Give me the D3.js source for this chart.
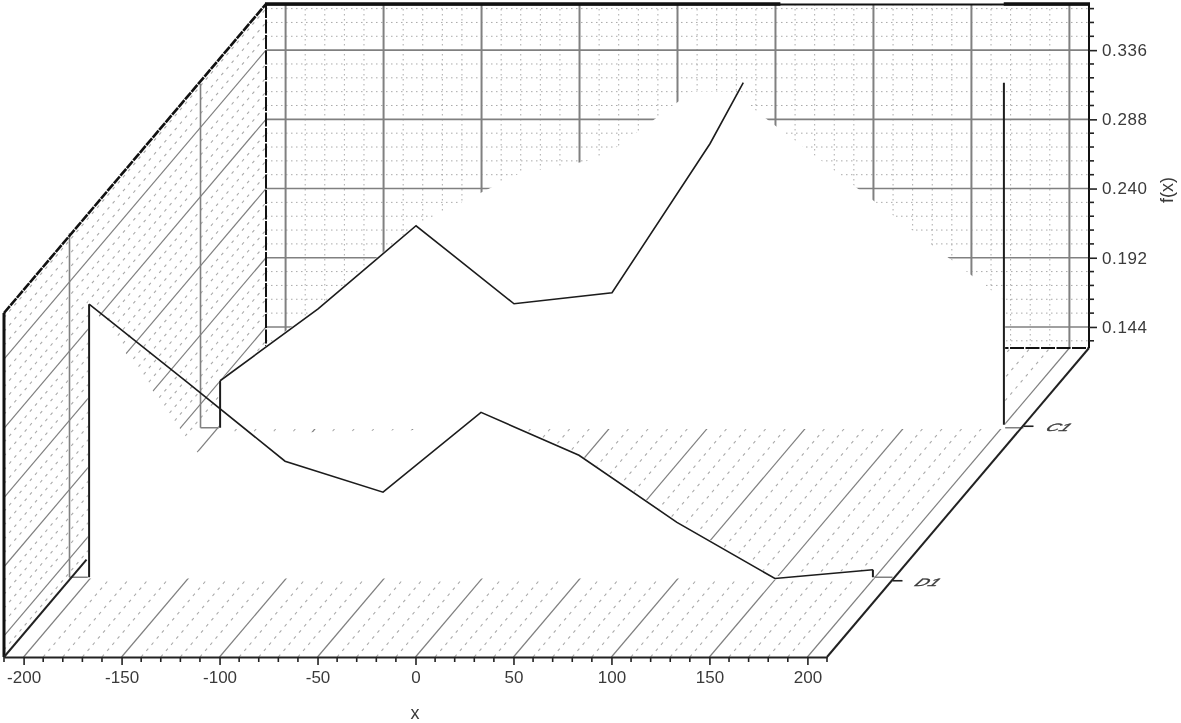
<!DOCTYPE html>
<html>
<head>
<meta charset="utf-8">
<script src="https://cdn.jsdelivr.net/npm/d3@7/dist/d3.min.js"></script>
<style>
    html, body { margin: 0; padding: 0; background: #fff; }
    svg { display: block; filter: blur(0.35px); }
    text { font-family: "Liberation Sans", Arial, sans-serif; fill: #3a3a3a; }
</style>
</head>
<body>
<div id="chart"></div>
<script>
var categories = ["D1", "C1"];

var xMajorTicks = [-200, -150, -100, -50, 0, 50, 100, 150, 200];
var yMajorTicks = [0.144, 0.192, 0.24, 0.288, 0.336];

//Series lines
var d1X = [-200, -150, -100, -50, 0, 50, 100, 150, 200];
var d1Values = [0.3188, 0.2647, 0.2099, 0.1884, 0.2438, 0.214, 0.1675, 0.1285, 0.1346];
var c1X = [-200, -150, -100, -50, 0, 50, 67];
var c1Values = [0.162, 0.2119, 0.2695, 0.2154, 0.223, 0.3264, 0.3687];
var c1EndValue = 0.3687;

//White areas under the series, their outline does not follow the lines
var d1FillX = [-200, -145, -131, -35, 0, 50, 100, 150, 200];
var d1FillValues = [0.3188, 0.2147, 0.2279, 0.2307, 0.2438, 0.214, 0.1675, 0.1285, 0.1346];
var c1FillX = [-200, -150, -100, -91, -47, -11, 4, 41, 59, 69, 200];
var c1FillValues = [0.162, 0.2119, 0.2695, 0.2751, 0.3049, 0.3139, 0.3243, 0.3618, 0.3618, 0.3527, 0.2168];

var width = 1181, height = 723;

var x = d3.scaleLinear().domain([-210, 210]).range([4, 827]);
var y = d3.scaleLinear().domain([0.1294, 0.368]).range([348, 4]);

//Oblique depth of the box, back wall is shifted by this much
var depthW = 262, depthH = 309;
var depthX = d3.scalePoint().domain(categories).range([0, depthW]).padding(0.5);
var depthY = d3.scalePoint().domain(categories).range([5, 304]).padding(0.5);

var xMinor = d3.range(-210, 211, 10).filter(function (d) { return xMajorTicks.indexOf(d) < 0; });
var yMinor = d3.range(-3, 24).map(function (i) { return 0.144 + i * 0.0096; })
    .filter(function (d) { return d > 0.1294 && d < 0.368; })
    .filter(function (d) { return !yMajorTicks.some(function (t) { return Math.abs(t - d) < 1e-6; }); });
var xDotted = xMinor.filter(function (d) { return d > -210 && d < 210; });

var svg = d3.select("#chart").append("svg")
    .attr("width", width)
    .attr("height", height);

var frontY = function (v) { return y(v) + depthH; };
var xBack = function (d) { return x(d) + depthW; };

function seg(g, data, x1, y1, x2, y2, color, w, dash) {
    g.append("g").selectAll("line").data(data).enter().append("line")
        .attr("x1", x1).attr("y1", y1).attr("x2", x2).attr("y2", y2)
        .attr("stroke", color)
        .attr("stroke-width", w)
        .attr("stroke-dasharray", dash || null);
}

var grid = svg.append("g").attr("class", "grid");

//Back wall
seg(grid, xDotted, xBack, 4, xBack, 348, "#aaa", 1, "1.5,3.5");
seg(grid, yMinor, x(-210) + depthW, y, x(210) + depthW, y, "#aaa", 1, "1.5,3.5");
seg(grid, xMajorTicks, xBack, 4, xBack, 348, "#808080", 2);
seg(grid, yMajorTicks, x(-210) + depthW, y, x(210) + depthW, y, "#808080", 1.6);

//Left wall
seg(grid, yMinor, x(-210), frontY, x(-210) + depthW, y, "#aaa", 1.1, "3,5");
seg(grid, yMajorTicks, x(-210), frontY, x(-210) + depthW, y, "#808080", 1.2);
seg(grid, categories, function (c) { return x(-210) + depthX(c); }, function (c) { return 657 - depthY(c); },
    function (c) { return x(-210) + depthX(c); }, function (c) { return 313 - depthY(c); }, "#808080", 1.6);

//Floor
seg(grid, xDotted, x, 657, xBack, 348, "#aaa", 1.1, "3,5");
seg(grid, xMajorTicks, x, 657, xBack, 348, "#808080", 1.2);
seg(grid, categories, function (c) { return x(-210) + depthX(c); }, function (c) { return 657 - depthY(c); },
    function (c) { return x(210) + depthX(c); }, function (c) { return 657 - depthY(c); }, "#808080", 1.6);

//Box edges
var edges = svg.append("g").attr("class", "edges");
seg(edges, [0], x(-210) + depthW, 4, x(-210) + depthW, 348, "#111", 2, "14,1.5");
seg(edges, [0], x(-210) + depthW, 348, x(210) + depthW, 348, "#111", 2, "14,1.5");
seg(edges, [0], x(-210), 313, x(-210) + depthW, 4, "#111", 2.6, "9,1");
seg(edges, [0], x(-210), 313, x(-210), 657, "#111", 3);
seg(edges, [0], xBack(-210) - 1, 4.5, xBack(210) + 1, 4.5, "#111", 2.2);
seg(edges, [[-210, 52], [167, 210]], function (d) { return xBack(d[0]) - 1; }, 4, function (d) { return xBack(d[1]) + 1; }, 4, "#111", 3.4);
seg(edges, [0], x(210) + depthW, 4, x(210) + depthW, 348, "#111", 2);
seg(edges, [0], x(210), 657, x(210) + depthW, 348, "#222", 2);
seg(edges, [0], x(-210), 657, x(-210) + depthW * 0.315, 657 - depthH * 0.315, "#222", 2);

//Screen position of a point of a series
function sx(cat) { return function (d) { return x(d[0]) + depthX(cat); }; }
function sy(cat) { return function (d) { return y(d[1]) + depthH - depthY(cat); }; }

function drawSeries(cat, lineX, lineValues, fillX, fillValues) {
    var g = svg.append("g").attr("class", "series-" + cat);
    var fillPts = d3.zip(fillX, fillValues);
    var area = d3.area()
        .x(sx(cat))
        .y1(sy(cat))
        .y0(348 + depthH - depthY(cat));

    //White stroke also hides the floor line under the series
    g.append("path").datum(fillPts)
        .attr("d", area)
        .attr("fill", "#fff")
        .attr("stroke", "#fff")
        .attr("stroke-width", 2.5);

    var line = d3.line().x(sx(cat)).y(sy(cat));
    g.append("path").datum(d3.zip(lineX, lineValues))
        .attr("d", line)
        .attr("fill", "none")
        .attr("stroke", "#1c1c1c")
        .attr("stroke-width", 1.6);

    //Drop at the first point
    g.append("line")
        .attr("x1", sx(cat)([lineX[0]]))
        .attr("x2", sx(cat)([lineX[0]]))
        .attr("y1", sy(cat)([lineX[0], lineValues[0]]))
        .attr("y2", 348 + depthH - depthY(cat))
        .attr("stroke", "#1c1c1c")
        .attr("stroke-width", 2);
    return g;
}

var gC1 = drawSeries("C1", c1X, c1Values, c1FillX, c1FillValues);

//Closing edge of C1 on the right
gC1.append("line")
    .attr("x1", sx("C1")([200]))
    .attr("x2", sx("C1")([200]))
    .attr("y1", sy("C1")([200, c1EndValue]))
    .attr("y2", 348 + depthH - depthY("C1") - 3)
    .attr("stroke", "#1c1c1c")
    .attr("stroke-width", 2);

var gD1 = drawSeries("D1", d1X, d1Values, d1FillX, d1FillValues);

//Closing edge of D1 on the right
gD1.append("line")
    .attr("x1", sx("D1")([200]))
    .attr("x2", sx("D1")([200]))
    .attr("y1", sy("D1")([200, d1Values[8]]))
    .attr("y2", 348 + depthH - depthY("D1"))
    .attr("stroke", "#1c1c1c")
    .attr("stroke-width", 2);

//Axes
var xAxis = d3.axisBottom(x)
    .tickValues(xMajorTicks)
    .tickFormat(function (d) { return String(d); })
    .tickSize(8)
    .tickSizeOuter(0);
var gx = svg.append("g").attr("transform", "translate(0,657)").call(xAxis);
gx.select(".domain").attr("stroke", "#222").attr("stroke-width", 2);
gx.selectAll(".tick line").attr("stroke", "#222").attr("stroke-width", 1.6);
gx.selectAll(".tick text").attr("font-size", 17).attr("y", 14);
gx.attr("font-family", null);
seg(gx, xMinor, x, 0, x, 5, "#222", 1.6);

var yAxis = d3.axisRight(y)
    .tickValues(yMajorTicks)
    .tickFormat(d3.format(".3f"))
    .tickSize(8)
    .tickSizeOuter(0);
var gy = svg.append("g").attr("transform", "translate(" + (x(210) + depthW) + ",0)").call(yAxis);
gy.select(".domain").remove();
gy.selectAll(".tick line").attr("stroke", "#222").attr("stroke-width", 1.6);
gy.selectAll(".tick text").attr("font-size", 17).attr("x", 13).style("letter-spacing", "0.6px");
gy.attr("font-family", null);
seg(gy, yMinor, 0, y, 5, y, "#222", 1.6);

//Category ticks and flattened labels on the floor edge
var catEdgeT = d3.scalePoint().domain(categories).range([0, 1]).padding(0.5);
var catG = svg.append("g").selectAll("g").data(categories).enter().append("g")
    .attr("transform", function (c) {
        var t = catEdgeT(c);
        return "translate(" + (x(210) + depthW * t) + "," + (658 - depthH * t) + ")";
    });
catG.append("line")
    .attr("x1", 0).attr("x2", 10)
    .attr("stroke", "#222").attr("stroke-width", 1.6);
catG.append("text")
    .attr("transform", "translate(21,5) skewX(-38) scale(1.35,0.8)")
    .attr("font-size", 13.5)
    .attr("font-style", "italic")
    .attr("stroke", "#3a3a3a")
    .attr("stroke-width", 0.4)
    .text(function (c) { return c; });

//Axis titles
svg.append("text")
    .attr("x", 415)
    .attr("y", 719)
    .attr("text-anchor", "middle")
    .attr("font-size", 18)
    .text("x");

svg.append("text")
    .attr("transform", "translate(1173,190) rotate(-90)")
    .attr("text-anchor", "middle")
    .attr("font-size", 18)
    .text("f(x)");
</script>
</body>
</html>
